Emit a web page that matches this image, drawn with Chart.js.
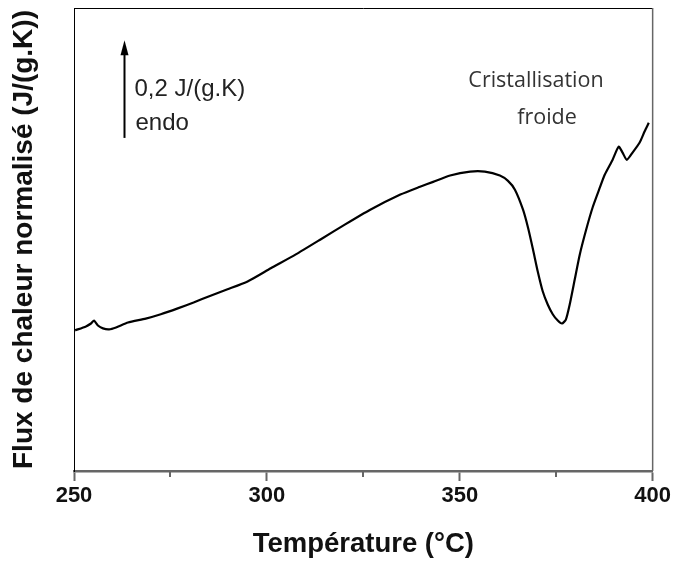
<!DOCTYPE html>
<html>
<head>
<meta charset="utf-8">
<script src="https://cdn.jsdelivr.net/npm/chart.js@4/dist/chart.umd.min.js"></script>
<style>
html,body{margin:0;padding:0;background:#fff;}
#wrap{width:673px;height:564px;position:relative;}
</style>
</head>
<body>
<div id="wrap"><canvas id="c" width="673" height="564"></canvas></div>
<script>
// Temperature (°C)
const temperatures = [250.3, 253.1, 254.4, 255.2, 256.2, 257.5, 259.1, 260.9, 264.0, 268.6,
  272.5, 276.9, 281.0, 285.4, 289.8, 295.0, 301.0, 307.4, 313.9, 320.3,
  326.8, 334.6, 339.7, 343.1, 347.5, 352.7, 356.5, 360.4, 362.5, 364.3,
  366.4, 367.7, 369.0, 370.2, 371.5, 372.8, 374.1, 375.4, 376.5, 377.5,
  378.5, 379.8, 381.1, 382.9, 384.5, 386.3, 387.6, 389.6, 391.2, 392.2,
  393.3, 394.8, 396.6, 397.9, 399.0];
// Normalised heat flow (J/(g.K)), relative offset
const heatFlow = [0.280, 0.288, 0.294, 0.300, 0.290, 0.284, 0.282, 0.286, 0.296, 0.304,
  0.313, 0.325, 0.337, 0.351, 0.364, 0.380, 0.407, 0.435, 0.466, 0.497,
  0.527, 0.558, 0.574, 0.584, 0.597, 0.605, 0.605, 0.597, 0.586, 0.568,
  0.527, 0.490, 0.445, 0.401, 0.360, 0.333, 0.313, 0.300, 0.294, 0.302,
  0.333, 0.384, 0.435, 0.490, 0.533, 0.572, 0.599, 0.629, 0.656, 0.644,
  0.629, 0.644, 0.664, 0.687, 0.705];
const majorTicks = [250, 300, 350, 400];
const minorTicks = [275, 325, 375];
const scaleBar = {x: 262.9, from: 0.674, size: 0.2, label: '0,2 J/(g.K)', sub: 'endo'};
const peakLabel = ['Cristallisation', 'froide'];
const xTitle = 'Température (°C)';
const yTitle = 'Flux de chaleur normalisé (J/(g.K))';

const points = temperatures.map((t, i) => ({x: t, y: heatFlow[i]}));

const decor = {
  id: 'decor',
  afterDraw(chart) {
    const {ctx, chartArea: a, scales: {x, y}} = chart;
    ctx.save();
    // top border
    ctx.strokeStyle = '#000'; ctx.lineWidth = 1;
    ctx.beginPath(); ctx.moveTo(a.left, a.top + 0.5); ctx.lineTo(a.right, a.top + 0.5); ctx.stroke();
    // right border
    ctx.strokeStyle = '#666'; ctx.lineWidth = 1.5;
    ctx.beginPath(); ctx.moveTo(a.right, a.top); ctx.lineTo(a.right, a.bottom); ctx.stroke();
    // minor ticks
    ctx.strokeStyle = '#666'; ctx.lineWidth = 2;
    minorTicks.forEach(v => {
      const px = Math.round(x.getPixelForValue(v));
      ctx.beginPath(); ctx.moveTo(px, a.bottom); ctx.lineTo(px, a.bottom + 6); ctx.stroke();
    });
    // scale arrow
    const ax = Math.round(x.getPixelForValue(scaleBar.x)) + 0.5;
    const y0 = y.getPixelForValue(scaleBar.from);
    const y1 = y.getPixelForValue(scaleBar.from + scaleBar.size);
    ctx.strokeStyle = '#000'; ctx.fillStyle = '#000'; ctx.lineWidth = 2;
    ctx.beginPath(); ctx.moveTo(ax, y0); ctx.lineTo(ax, y1 + 12); ctx.stroke();
    ctx.beginPath(); ctx.moveTo(ax, y1); ctx.lineTo(ax - 4, y1 + 15); ctx.lineTo(ax + 4, y1 + 15); ctx.closePath(); ctx.fill();
    ctx.fillStyle = '#222';
    ctx.font = '24px "Liberation Sans", Arial, sans-serif';
    ctx.textAlign = 'left'; ctx.textBaseline = 'alphabetic';
    ctx.fillText(scaleBar.label, ax + 10, y1 + 56);
    ctx.fillText(scaleBar.sub, ax + 11, y1 + 90);
    // peak label
    ctx.fillStyle = '#333';
    ctx.font = '21.5px "Open Sans", sans-serif';
    ctx.textAlign = 'center';
    ctx.fillText(peakLabel[0], 536, 87);
    ctx.fillText(peakLabel[1], 547, 124);
    ctx.restore();
  }
};

new Chart(document.getElementById('c'), {
  type: 'scatter',
  data: {
    datasets: [{
      data: points,
      showLine: true,
      borderColor: '#000',
      borderWidth: 2.2,
      pointRadius: 0,
      tension: 0.2,
      fill: false
    }]
  },
  options: {
    responsive: false,
    animation: false,
    events: [],
    layout: {padding: {top: 8, right: 20, left: 0, bottom: 0}},
    plugins: {legend: {display: false}, tooltip: {enabled: false}},
    scales: {
      x: {
        type: 'linear',
        min: 250, max: 400,
        afterFit(s) { s.height = 93; },
        afterBuildTicks(s) { s.ticks = majorTicks.map(v => ({value: v})); },
        ticks: {
          color: '#111',
          font: {family: '"Liberation Sans", Arial, sans-serif', size: 22, weight: 'bold'},
          padding: 2,
          maxRotation: 0,
          callback: v => String(v)
        },
        grid: {drawOnChartArea: false, drawTicks: true, tickLength: 10, tickColor: '#666', tickWidth: 2},
        border: {display: true, color: '#666', width: 2.5},
        title: {
          display: true, text: xTitle, color: '#111',
          font: {family: '"Liberation Sans", Arial, sans-serif', size: 27.5, weight: 'bold'},
          padding: {top: 0, bottom: 3}
        }
      },
      y: {
        type: 'linear',
        min: -0.008, max: 0.94,
        afterFit(s) { s.width = 74; },
        ticks: {display: false},
        grid: {display: false},
        border: {display: true, color: '#000', width: 1},
        title: {
          display: true, text: yTitle, color: '#111',
          font: {family: '"Liberation Sans", Arial, sans-serif', size: 28, weight: 'bold'},
          padding: {top: 7, bottom: 0}
        }
      }
    }
  },
  plugins: [decor]
});
</script>
</body>
</html>
